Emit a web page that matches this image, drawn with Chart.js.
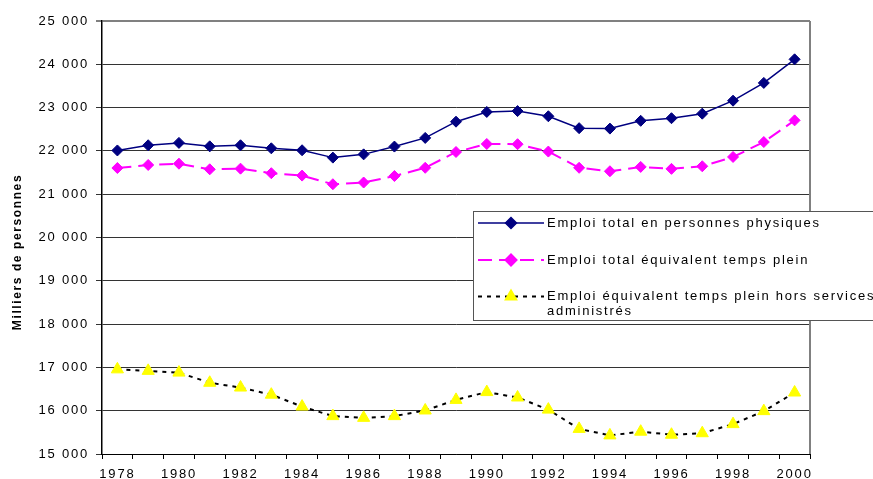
<!DOCTYPE html>
<html><head><meta charset="utf-8">
<script src="https://cdn.jsdelivr.net/npm/chart.js@4/dist/chart.umd.min.js"></script>
<style>html,body{margin:0;padding:0;background:#fff;overflow:hidden}</style>
</head><body>
<canvas id="c" width="873" height="479" style="width:873px;height:479px;display:block"></canvas>
<script>
// ---- data ----
const years = ['1978','1979','1980','1981','1982','1983','1984','1985','1986','1987','1988','1989','1990','1991','1992','1993','1994','1995','1996','1997','1998','1999','2000'];
const emploiPersonnesPhysiques = [22010,22130,22185,22105,22130,22060,22015,21845,21920,22100,22300,22675,22900,22920,22800,22525,22515,22695,22755,22860,23160,23570,24115];
const emploiTotalETP = [21605,21675,21705,21575,21590,21485,21430,21230,21270,21420,21610,21975,22160,22155,21985,21610,21530,21630,21585,21645,21860,22205,22705];
const emploiETPHorsAdm = [16955,16920,16880,16645,16535,16370,16095,15875,15835,15875,16005,16250,16430,16305,16025,15580,15430,15515,15445,15480,15690,15990,16420];
const seriesLabels = [
  ['Emploi total en personnes physiques'],
  ['Emploi total équivalent temps plein'],
  ['Emploi équivalent temps plein hors services', 'administrés']
];
const yAxisTitle = 'Milliers de personnes';
const yMin = 15000, yMax = 25000, yStep = 1000;

const FONT = '"Liberation Sans", Arial, sans-serif';
const SPACING = '1.8px';

function fmt(v){ return String(v).replace(/\B(?=(\d{3})+(?!\d))/g, ' '); }

const deco = {
  id: 'deco',
  beforeUpdate(chart){ chart.ctx.letterSpacing = SPACING; },
  beforeLayout(chart){ chart.ctx.letterSpacing = SPACING; },
  beforeDraw(chart){
    const c = chart.ctx;
    c.save(); c.fillStyle = '#fff'; c.fillRect(0,0,chart.width,chart.height); c.restore();
    c.letterSpacing = SPACING;
  },
  beforeDatasetsDraw(chart){
    const c = chart.ctx, a = chart.chartArea;
    c.save();
    c.strokeStyle = '#808080'; c.lineWidth = 2;
    c.beginPath(); c.moveTo(a.right, a.top); c.lineTo(a.right, a.bottom); c.stroke();
    c.restore();
  },
  afterDraw(chart){
    const c = chart.ctx;
    c.save();
    // y axis title
    c.letterSpacing = '1.6px';
    c.font = 'bold 12px ' + FONT;
    c.fillStyle = '#000';
    c.textAlign = 'center'; c.textBaseline = 'middle';
    c.translate(18, 252); c.rotate(-Math.PI/2);
    c.fillText(yAxisTitle, 0, 0);
    c.restore();

    // legend box
    c.save();
    const bx = 473.5, by = 211.5, bw = 430, bh = 109;
    c.fillStyle = '#fff'; c.fillRect(bx, by, bw, bh);
    c.strokeStyle = '#555'; c.lineWidth = 1; c.strokeRect(bx, by, bw, bh);
    const rowsY = [223, 260, 296.5];
    chart.data.datasets.forEach((ds, i) => {
      const y = rowsY[i];
      c.save();
      c.strokeStyle = ds.borderColor; c.lineWidth = ds.borderWidth;
      c.setLineDash(ds.borderDash || []);
      c.beginPath(); c.moveTo(478, y); c.lineTo(544, y); c.stroke();
      c.setLineDash([]);
      c.fillStyle = ds.pointBackgroundColor; c.strokeStyle = ds.pointBorderColor;
      const r = ds.pointStyle === 'triangle' ? 6 : ds.pointRadius;
      Chart.helpers.drawPoint(c, {pointStyle: ds.pointStyle, radius: r, rotation: 0, borderWidth: 1}, 511, y);
      c.restore();
      c.letterSpacing = '1.75px';
      c.font = '13px ' + FONT; c.fillStyle = '#000';
      c.textAlign = 'left'; c.textBaseline = 'middle';
      seriesLabels[i].forEach((t, k) => c.fillText(t, 547, y + k * 14.5));
    });
    c.restore();
  }
};

new Chart(document.getElementById('c'), {
  type: 'line',
  data: {
    labels: years,
    datasets: [
      { label: seriesLabels[0].join(' '), data: emploiPersonnesPhysiques,
        borderColor: '#000080', backgroundColor: '#000080', borderWidth: 1.5,
        pointStyle: 'rectRot', pointRadius: 5.5, pointBackgroundColor: '#000080', pointBorderColor: '#000080', pointBorderWidth: 1,
        tension: 0 },
      { label: seriesLabels[1].join(' '), data: emploiTotalETP,
        borderColor: '#FF00FF', backgroundColor: '#FF00FF', borderWidth: 2, borderDash: [14, 7],
        pointStyle: 'rectRot', pointRadius: 5.5, pointBackgroundColor: '#FF00FF', pointBorderColor: '#FF00FF', pointBorderWidth: 1,
        tension: 0 },
      { label: seriesLabels[2].join(' '), data: emploiETPHorsAdm,
        borderColor: '#000000', backgroundColor: '#FFFF00', borderWidth: 2, borderDash: [4, 5],
        pointStyle: 'triangle', pointRadius: 7, pointBackgroundColor: '#FFFF00', pointBorderColor: '#FFFF00', pointBorderWidth: 1,
        tension: 0 }
    ]
  },
  options: {
    responsive: false,
    animation: false,
    devicePixelRatio: 1,
    layout: { padding: { left: 0, top: 21, right: 63, bottom: 0 } },
    plugins: { legend: { display: false }, tooltip: { enabled: false }, title: { display: false } },
    scales: {
      x: {
        type: 'category', offset: true,
        grid: { offset: true, drawOnChartArea: false, drawTicks: true, tickLength: 5, color: '#000', lineWidth: 1 },
        border: { color: '#000', width: 1 },
        ticks: { autoSkip: false, maxRotation: 0, minRotation: 0, padding: 8, color: '#000',
          font: { family: FONT, size: 13 },
          callback: function(v, i){ const l = this.getLabelForValue(v); return (parseInt(l) % 2 === 0) ? l : ''; } },
        afterFit: s => { s.height = 25; }
      },
      y: {
        min: yMin, max: yMax,
        grid: { color: ctx => (ctx.tick && ctx.tick.value === yMax) ? '#808080' : '#333', lineWidth: ctx => (ctx.tick && ctx.tick.value === yMax) ? 2 : 1, tickLength: 6, drawTicks: true },
        border: { color: '#000', width: 1.5 },
        ticks: { stepSize: yStep, padding: 7, color: '#000', font: { family: FONT, size: 13 }, callback: v => fmt(v) },
        afterFit: s => { s.width = 102; }
      }
    }
  },
  plugins: [deco]
});
</script>
</body></html>
